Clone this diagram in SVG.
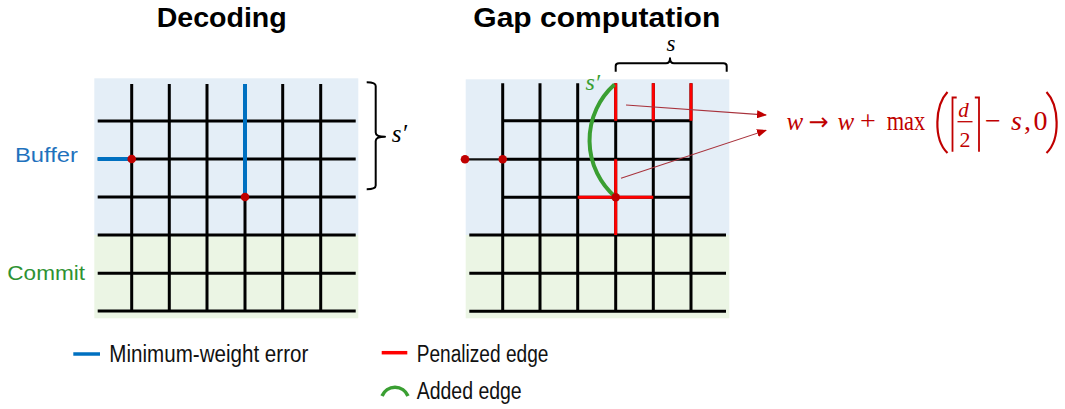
<svg xmlns="http://www.w3.org/2000/svg" width="1065" height="409" viewBox="0 0 1065 409">
<defs>
<style>
.title{font-family:"Liberation Sans",Arial,sans-serif;font-weight:bold;font-size:28px;fill:#000}
.lbl{font-family:"Liberation Sans",Arial,sans-serif;font-size:21px}
.leg{font-family:"Liberation Sans",Arial,sans-serif;font-size:23px;fill:#111}
.g{stroke:#000;stroke-width:3;fill:none}
.blue{stroke:#0070C0;stroke-width:4;fill:none}
.red{stroke:#ff0000;stroke-width:3;fill:none}
.green{stroke:#3a9f32;stroke-width:4;fill:none}
.dot{fill:#c00000}
.brace{stroke:#000;stroke-width:2;fill:none;stroke-linejoin:round}
.math{font-family:"Liberation Serif","DejaVu Serif",serif;font-size:28px;fill:#c00000}
.mi{font-style:italic}
.delim{stroke:#c00000;stroke-width:2.2;fill:none}
.conn{stroke:#a8323c;stroke-width:1.1;fill:none}
</style>
<marker id="ah" markerUnits="userSpaceOnUse" markerWidth="10" markerHeight="8" refX="9" refY="4" orient="auto">
<path d="M0,0 L10,4 L0,8 z" fill="#c00000"/>
</marker>
</defs>
<rect width="1065" height="409" fill="#fff"/>

<g id="titles">
<text class="title" x="156.7" y="26.7" textLength="130" lengthAdjust="spacingAndGlyphs">Decoding</text>
<text class="title" x="473.3" y="26.5" style="font-size:28.5px" textLength="247" lengthAdjust="spacingAndGlyphs">Gap computation</text>
</g>

<g id="decoding-panel">
<rect x="94.3" y="78.3" width="264" height="156.7" fill="#e4eef7"/>
<rect x="94.3" y="235" width="264" height="83.3" fill="#ebf5e4"/>
<g class="g">
<path d="M131.7,84V311.7M169.3,84V311.7M207,84V311.7M245,84V311.7M282.7,84V311.7M320.7,84V311.7"/>
<path d="M97.7,121H355.7M97.7,159H355.7M97.7,197H355.7M97.7,235H355.7M97.7,273.3H355.7M97.7,311H355.7"/>
</g>
<path class="blue" d="M97.7,159H131.7M245,84V197"/>
<circle class="dot" cx="131.7" cy="159" r="4.3"/>
<circle class="dot" cx="245" cy="197" r="4.3"/>
<text class="lbl" x="15" y="161.7" fill="#1f72bd" textLength="63" lengthAdjust="spacingAndGlyphs">Buffer</text>
<text class="lbl" x="7.3" y="280" fill="#2e9232" textLength="77.7" lengthAdjust="spacingAndGlyphs">Commit</text>
<path class="brace" d="M366.7,82.3 Q375.7,82.3 375.7,86 V132.5 Q375.7,136.7 385,136.7 Q375.7,136.7 375.7,141 V185.5 Q375.7,189.3 366.7,189.3"/>
<text x="391.7" y="141.7" font-family="'Liberation Serif',serif" font-style="italic" font-size="25" fill="#000">s′</text>
</g>

<g id="gap-panel">
<rect x="465.7" y="79.3" width="263.6" height="155.7" fill="#e4eef7"/>
<rect x="465.7" y="235" width="263.6" height="83.3" fill="#ebf5e4"/>
<g class="g">
<path d="M502.7,83.3V311.7M540,83.3V311.7M577.7,83.3V311.7M615.7,83.3V311.7M653.3,83.3V311.7M691,83.3V311.7"/>
<path d="M502.7,120.7H691M502.7,159.3H691M502.7,197.3H691M469.3,235H726M469.3,273.3H726M469.3,311.3H726"/>
</g>
<path d="M465,159.3H502.7" stroke="#111" stroke-width="2.3"/>
<path class="red" d="M615.7,83.3V120.7M653.3,83.3V120.7M691,83.3V120.7M615.7,159.3V235M577.7,197.3H653.3"/>
<path class="green" d="M614.5,84.5 A75,75 0 0 0 615.7,197.3"/>
<circle class="dot" cx="465" cy="159.3" r="4.3"/>
<circle class="dot" cx="502.7" cy="159.3" r="4.3"/>
<circle class="dot" cx="615.7" cy="197.3" r="4.3"/>
<text x="585.5" y="90" font-family="'Liberation Serif',serif" font-style="italic" font-size="24" fill="#3a9f32">s′</text>
<path class="brace" d="M615.7,71.7 V66 Q615.7,63.3 619,63.3 H666 Q670,63.3 670,58.3 Q670,63.3 674,63.3 H723.5 Q726.7,63.3 726.7,66 V71.7"/>
<text x="666.5" y="50.5" font-family="'Liberation Serif',serif" font-style="italic" font-size="23" fill="#000">s</text>
</g>

<g id="connectors">
<path class="conn" d="M626,105 L766,115" marker-end="url(#ah)"/>
<path class="conn" d="M621,178.3 L766,130.3" marker-end="url(#ah)"/>
</g>

<g id="formula">
<text class="math mi" x="786.5" y="129.5" style="font-size:25px">w</text>
<text class="math" x="808.5" y="129.5" style="font-family:'DejaVu Sans',sans-serif;font-size:24px">→</text>
<text class="math mi" x="837.5" y="129.5" style="font-size:25px">w</text>
<text class="math" x="860" y="129.5">+</text>
<text class="math" x="886.7" y="129.5" textLength="38.5" lengthAdjust="spacingAndGlyphs">max</text>
<path class="delim" d="M947.5,92 C935,105 933,139 947.5,153"/>
<path class="delim" d="M956.7,97.5 H952.5 V151.7" style="stroke-width:1.8"/>
<text class="math mi" x="958.3" y="116.5" style="font-size:21px">d</text>
<path d="M957.5,121.7H972.5" stroke="#c00000" stroke-width="1.3"/>
<text class="math" x="959.5" y="146.5" style="font-size:22px">2</text>
<path class="delim" d="M974.8,97.5 H979 V151.7" style="stroke-width:1.8"/>
<text class="math" x="985" y="129.5">−</text>
<text class="math mi" x="1011" y="129.5">s</text>
<text class="math" x="1024" y="129.5">,</text>
<text class="math" x="1033.5" y="129.5">0</text>
<path class="delim" d="M1046.5,92 C1059,105 1061,139 1046.5,153"/>
</g>

<g id="legend">
<path class="blue" d="M73.3,354H100" style="stroke-width:3.5"/>
<text class="leg" x="109.3" y="361.7" textLength="199" lengthAdjust="spacingAndGlyphs">Minimum-weight error</text>
<path class="red" d="M381.7,352.7H407.3" style="stroke-width:3.5"/>
<text class="leg" x="416.7" y="361.5" textLength="131.7" lengthAdjust="spacingAndGlyphs">Penalized edge</text>
<path class="green" d="M382,396 A14,14 0 0 1 408,396" style="stroke-width:3.5"/>
<text class="leg" x="416.7" y="398.5" textLength="105" lengthAdjust="spacingAndGlyphs">Added edge</text>
</g>
</svg>
